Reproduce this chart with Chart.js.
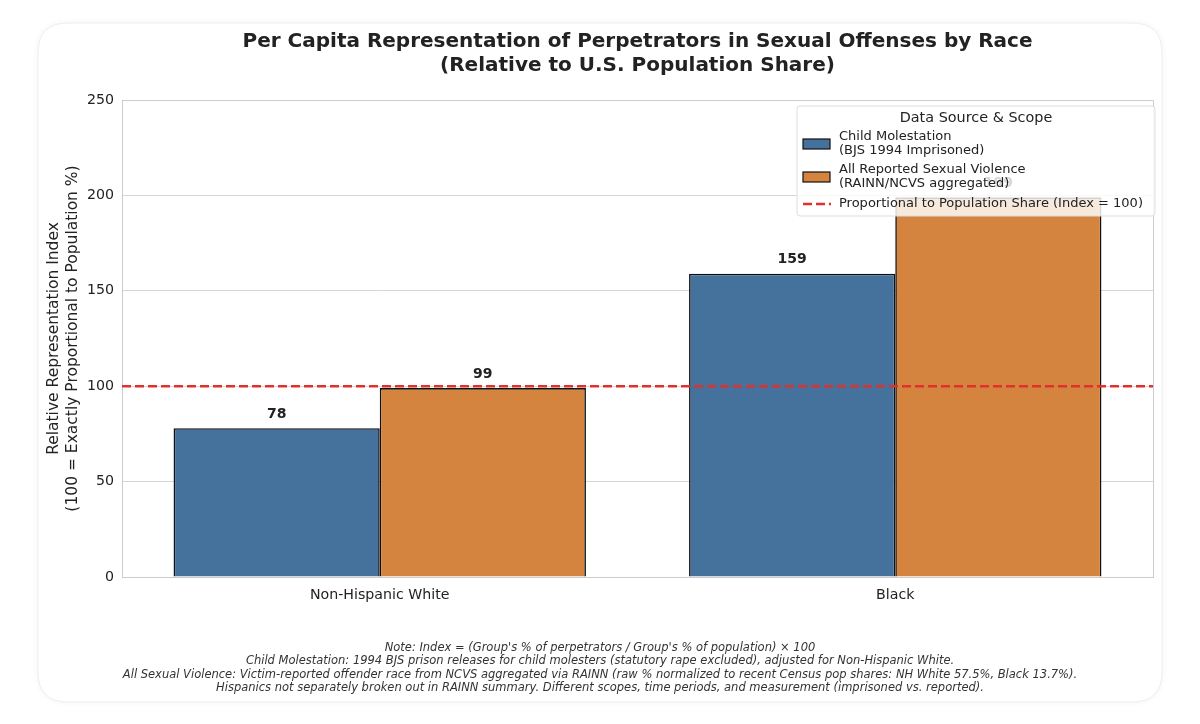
<!DOCTYPE html>
<html>
<head>
<meta charset="utf-8">
<script src="https://cdn.jsdelivr.net/npm/chart.js@4.4.1/dist/chart.umd.min.js"></script>
<style>
  html, body { margin: 0; padding: 0; background: #ffffff; }
  canvas { display: block; }
</style>
</head>
<body>
<canvas id="c" width="1200" height="724"></canvas>
<script>
// ---- Data ----
const CATEGORIES = ["Non-Hispanic White", "Black"];
const CHILD_MOLESTATION = [78, 159];
const ALL_SEXUAL_VIOLENCE = [99, 199];
const REFERENCE_INDEX = 100;
const Y_TICKS = [0, 50, 100, 150, 200, 250];
const SERIES_NAMES = [
  ["Child Molestation", "(BJS 1994 Imprisoned)"],
  ["All Reported Sexual Violence", "(RAINN/NCVS aggregated)"]
];
const REF_NAME = "Proportional to Population Share (Index = 100)";
const LEGEND_TITLE = "Data Source & Scope";
const TITLE_LINES = [
  "Per Capita Representation of Perpetrators in Sexual Offenses by Race",
  "(Relative to U.S. Population Share)"
];
const Y_TITLE = ["Relative Representation Index", "(100 = Exactly Proportional to Population %)"];
const NOTES = [
  "Note: Index = (Group's % of perpetrators / Group's % of population) \u00d7 100",
  "Child Molestation: 1994 BJS prison releases for child molesters (statutory rape excluded), adjusted for Non-Hispanic White.",
  "All Sexual Violence: Victim-reported offender race from NCVS aggregated via RAINN (raw % normalized to recent Census pop shares: NH White 57.5%, Black 13.7%).",
  "Hispanics not separately broken out in RAINN summary. Different scopes, time periods, and measurement (imprisoned vs. reported)."
];

const FONT = "'DejaVu Sans', 'Liberation Sans', sans-serif";
const BLUE = "#44729d";
const ORANGE = "#d4843e";
const RED = "#e0312b";

function roundRect(ctx, x, y, w, h, r) {
  ctx.beginPath();
  ctx.moveTo(x + r, y);
  ctx.lineTo(x + w - r, y);
  ctx.quadraticCurveTo(x + w, y, x + w, y + r);
  ctx.lineTo(x + w, y + h - r);
  ctx.quadraticCurveTo(x + w, y + h, x + w - r, y + h);
  ctx.lineTo(x + r, y + h);
  ctx.quadraticCurveTo(x, y + h, x, y + h - r);
  ctx.lineTo(x, y + r);
  ctx.quadraticCurveTo(x, y, x + r, y);
  ctx.closePath();
}

const decor = {
  id: 'decor',
  beforeDraw(chart) {
    const ctx = chart.ctx;
    ctx.save();
    ctx.fillStyle = '#ffffff';
    ctx.fillRect(0, 0, chart.width, chart.height);
    ctx.shadowColor = 'rgba(0,0,0,0.06)';
    ctx.shadowBlur = 6;
    roundRect(ctx, 38, 23, 1124, 679, 30);
    ctx.fillStyle = '#ffffff';
    ctx.fill();
    ctx.shadowColor = 'transparent';
    ctx.strokeStyle = '#eeeeee';
    ctx.lineWidth = 1;
    ctx.stroke();
    ctx.restore();
  },
  afterDatasetsDraw(chart) {
    const ctx = chart.ctx;
    const a = chart.chartArea;
    const ys = chart.scales.y;
    ctx.save();
    ctx.strokeStyle = '#cccccc';
    ctx.lineWidth = 1;
    ctx.beginPath();
    ctx.moveTo(a.left, a.top + 0.5);
    ctx.lineTo(a.right + 0.5, a.top + 0.5);
    ctx.lineTo(a.right + 0.5, a.bottom);
    ctx.stroke();
    ctx.fillStyle = '#222222';
    ctx.font = "bold 14px " + FONT;
    ctx.textAlign = 'center';
    ctx.textBaseline = 'middle';
    chart.data.datasets.forEach((ds, i) => {
      chart.getDatasetMeta(i).data.forEach((bar, j) => {
        ctx.fillText(String(ds.data[j]), bar.x, bar.y - 14);
      });
    });
    const yr = ys.getPixelForValue(REFERENCE_INDEX);
    ctx.strokeStyle = RED;
    ctx.lineWidth = 2.5;
    ctx.setLineDash([9, 4]);
    ctx.beginPath();
    ctx.moveTo(a.left, yr);
    ctx.lineTo(a.right, yr);
    ctx.stroke();
    ctx.setLineDash([]);
    ctx.restore();
  },
  afterDraw(chart) {
    const ctx = chart.ctx;
    const a = chart.chartArea;
    ctx.save();
    ctx.fillStyle = '#222222';
    ctx.font = "bold 20px " + FONT;
    ctx.textAlign = 'center';
    ctx.textBaseline = 'middle';
    const cx = (a.left + a.right) / 2;
    ctx.fillText(TITLE_LINES[0], cx, 42);
    ctx.fillText(TITLE_LINES[1], cx, 66);
    ctx.save();
    ctx.translate(54, (a.top + a.bottom) / 2);
    ctx.rotate(-Math.PI / 2);
    ctx.font = "15.5px " + FONT;
    ctx.fillStyle = '#222222';
    ctx.fillText(Y_TITLE[0], 0, 0);
    ctx.fillText(Y_TITLE[1], 0, 19);
    ctx.restore();
    ctx.font = "italic 11.5px " + FONT;
    ctx.fillStyle = '#333333';
    NOTES.forEach((t, i) => ctx.fillText(t, 600, 648 + i * 13.4));
    const lx = 797, ly = 106, lw = 358, lh = 110;
    roundRect(ctx, lx, ly, lw, lh, 3);
    ctx.fillStyle = 'rgba(255,255,255,0.82)';
    ctx.fill();
    ctx.strokeStyle = '#dddddd';
    ctx.lineWidth = 1;
    ctx.stroke();
    ctx.fillStyle = '#222222';
    ctx.font = "14.4px " + FONT;
    ctx.textAlign = 'center';
    ctx.fillText(LEGEND_TITLE, lx + lw / 2, 118);
    ctx.textAlign = 'left';
    ctx.font = "13px " + FONT;
    const colors = [BLUE, ORANGE];
    const rowY = [144, 177];
    SERIES_NAMES.forEach((lines, i) => {
      ctx.fillStyle = colors[i];
      ctx.fillRect(803, rowY[i] - 5, 27, 10);
      ctx.strokeStyle = '#111111';
      ctx.lineWidth = 1.2;
      ctx.strokeRect(803, rowY[i] - 5, 27, 10);
      ctx.fillStyle = '#222222';
      ctx.fillText(lines[0], 839, rowY[i] - 7);
      ctx.fillText(lines[1], 839, rowY[i] + 7);
    });
    ctx.strokeStyle = RED;
    ctx.lineWidth = 2.5;
    ctx.setLineDash([9, 4]);
    ctx.beginPath();
    ctx.moveTo(803, 204);
    ctx.lineTo(831, 204);
    ctx.stroke();
    ctx.setLineDash([]);
    ctx.fillStyle = '#222222';
    ctx.fillText(REF_NAME, 839, 204);
    ctx.restore();
  }
};

new Chart(document.getElementById('c'), {
  type: 'bar',
  data: {
    labels: CATEGORIES,
    datasets: [
      { label: SERIES_NAMES[0].join(' '), data: CHILD_MOLESTATION, backgroundColor: BLUE, borderColor: '#111111', borderWidth: 1.6, categoryPercentage: 0.8, barPercentage: 1.0 },
      { label: SERIES_NAMES[1].join(' '), data: ALL_SEXUAL_VIOLENCE, backgroundColor: ORANGE, borderColor: '#111111', borderWidth: 1.6, categoryPercentage: 0.8, barPercentage: 1.0 }
    ]
  },
  options: {
    responsive: false,
    animation: false,
    devicePixelRatio: 1,
    layout: { padding: { top: 100, right: 47, left: 0, bottom: 117 } },
    plugins: { legend: { display: false }, title: { display: false }, tooltip: { enabled: false } },
    scales: {
      x: {
        grid: { display: false, drawTicks: false },
        border: { color: '#cccccc', width: 1 },
        ticks: { color: '#222222', font: { family: FONT, size: 14.2 }, padding: 10 },
        afterFit(s) { s.height = 30; }
      },
      y: {
        min: Y_TICKS[0], max: Y_TICKS[Y_TICKS.length - 1],
        afterBuildTicks(s) { s.ticks = Y_TICKS.map(v => ({ value: v })); },
        grid: { color: '#d6d6d6', lineWidth: 1, drawTicks: false },
        border: { color: '#cccccc', width: 1 },
        ticks: { color: '#222222', font: { family: FONT, size: 14.2 }, padding: 8 },
        afterFit(s) { s.width = 122; }
      }
    }
  },
  plugins: [decor]
});
</script>
</body>
</html>
